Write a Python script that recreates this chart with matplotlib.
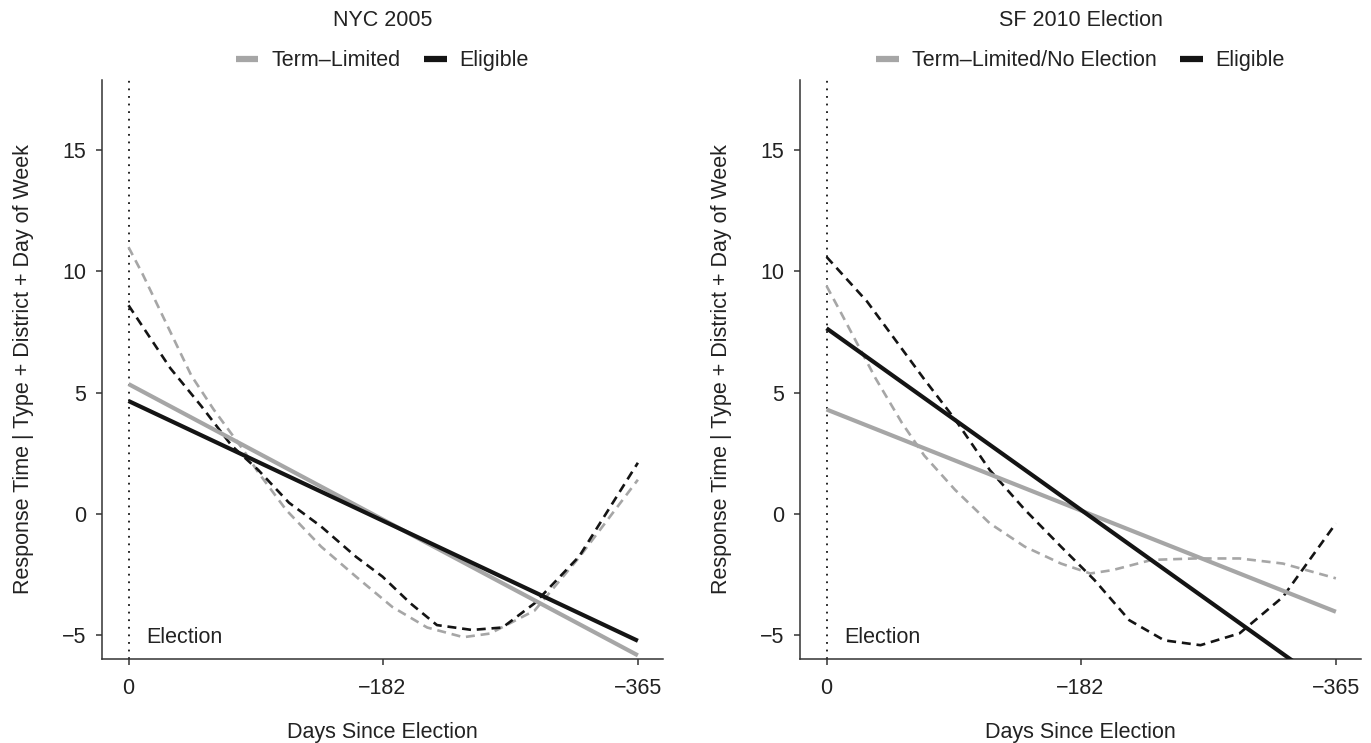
import matplotlib
matplotlib.use("Agg")
import matplotlib.pyplot as plt
from matplotlib.lines import Line2D

plt.rcParams['font.family'] = ['Liberation Sans', 'DejaVu Sans']

# ---------------- data ----------------
titles = ["NYC 2005", "SF 2010 Election"]
legend_labels = [["Term\u2013Limited", "Eligible"],
                 ["Term\u2013Limited/No Election", "Eligible"]]

x_ticks = [0, -182, -365]
x_ticklabels = ["0", "\u2212182", "\u2212365"]
y_ticks = [-5, 0, 5, 10, 15]
y_ticklabels = ["\u22125", "0", "5", "10", "15"]

# linear fits (start at day 0, end at day -365)
lin_days = [0, -365]
nyc_lin_term = [5.35, -5.85]
nyc_lin_elig = [4.65, -5.25]
sf_lin_term = [4.3, -4.05]
sf_lin_elig = [7.65, -7.35]

# smooth fits
nyc_term_days = [0, -10, -45, -61, -82, -93, -113, -138, -163, -189, -214, -240, -259, -291, -323, -365]
nyc_term_vals = [11.0, 9.9, 5.7, 4.3, 2.65, 1.7, 0.15, -1.36, -2.6, -3.85, -4.7, -5.1, -4.95, -4.0, -1.8, 1.4]

nyc_elig_days = [0, -30, -52, -74, -93, -115, -138, -163, -182, -202, -221, -246, -268, -291, -323, -365]
nyc_elig_vals = [8.6, 6.0, 4.45, 2.8, 1.8, 0.45, -0.53, -1.78, -2.6, -3.7, -4.6, -4.8, -4.7, -3.7, -1.76, 2.1]

sf_term_days = [0, -10, -35, -54, -70, -92, -117, -142, -168, -189, -205, -233, -264, -296, -327, -365]
sf_term_vals = [9.4, 8.33, 5.6, 3.75, 2.4, 0.99, -0.4, -1.36, -2.06, -2.47, -2.33, -1.91, -1.85, -1.85, -2.06, -2.67]

sf_elig_days = [0, -29, -70, -92, -117, -142, -168, -192, -217, -242, -268, -296, -327, -365]
sf_elig_vals = [10.6, 8.76, 5.55, 3.9, 1.8, 0.17, -1.36, -2.74, -4.4, -5.23, -5.43, -4.94, -3.44, -0.4]

panels = [
    dict(lin_term=nyc_lin_term, lin_elig=nyc_lin_elig,
         sm_term=(nyc_term_days, nyc_term_vals), sm_elig=(nyc_elig_days, nyc_elig_vals)),
    dict(lin_term=sf_lin_term, lin_elig=sf_lin_elig,
         sm_term=(sf_term_days, sf_term_vals), sm_elig=(sf_elig_days, sf_elig_vals)),
]

# ---------------- style ----------------
GREY = "#a6a6a6"
BLACK = "#141414"
FS = 15.5

W, H = 1371, 743
fig = plt.figure(figsize=(W / 100, H / 100), dpi=100)

ax_boxes = [
    (102 / W, 1 - 659 / H, (663 - 102) / W, (659 - 80) / H),
    (800 / W, 1 - 659 / H, (1361 - 800) / W, (659 - 80) / H),
]

for i, (box, p) in enumerate(zip(ax_boxes, panels)):
    ax = fig.add_axes(box)
    ax.set_xlim(19, -383)
    ax.set_ylim(-6.0, 17.9)

    ax.axvline(0, color=BLACK, lw=1.3, linestyle=(0, (1, 3.2)), zorder=1)

    ax.plot(p["sm_term"][0], p["sm_term"][1], color=GREY, lw=1.9,
            linestyle=(0, (3.4, 2.2)), zorder=2)
    ax.plot(p["sm_elig"][0], p["sm_elig"][1], color=BLACK, lw=1.9,
            linestyle=(0, (3.4, 2.2)), zorder=3)
    ax.plot(lin_days, p["lin_term"], color=GREY, lw=3.0, zorder=4,
            solid_capstyle='butt')
    ax.plot(lin_days, p["lin_elig"], color=BLACK, lw=3.0, zorder=5,
            solid_capstyle='butt')

    ax.text(-13, -5.1, "Election", fontsize=FS, ha='left', va='center', color="#222222")

    for s in ['top', 'right']:
        ax.spines[s].set_visible(False)
    for s in ['left', 'bottom']:
        ax.spines[s].set_linewidth(1.1)
        ax.spines[s].set_color("#333333")

    ax.set_xticks(x_ticks)
    ax.set_xticklabels(x_ticklabels)
    ax.set_yticks(y_ticks)
    ax.set_yticklabels(y_ticklabels)
    ax.tick_params(axis='both', labelsize=FS, length=4.5, width=1.1,
                   color="#333333", labelcolor="#222222")
    ax.tick_params(axis='x', pad=9)
    ax.tick_params(axis='y', pad=7)

    ax.set_xlabel("Days Since Election", fontsize=FS, color="#222222", labelpad=17)
    ax.set_ylabel("Response Time | Type + District + Day of Week", fontsize=FS,
                  color="#222222", labelpad=20)

    ax.text(0.5, 1.102, titles[i], transform=ax.transAxes, ha='center', va='center',
            fontsize=FS, color="#222222")

    handles = [Line2D([], [], color=GREY, lw=4.5, solid_capstyle='butt'),
               Line2D([], [], color=BLACK, lw=4.5, solid_capstyle='butt')]
    leg = ax.legend(handles, legend_labels[i], ncol=2, frameon=False,
                    loc='center', bbox_to_anchor=(0.5, 1.033),
                    fontsize=FS, handlelength=1.05, handletextpad=0.6,
                    columnspacing=1.1, borderaxespad=0, borderpad=0)
    for t in leg.get_texts():
        t.set_color("#222222")

fig.savefig("out.png", dpi=100)
